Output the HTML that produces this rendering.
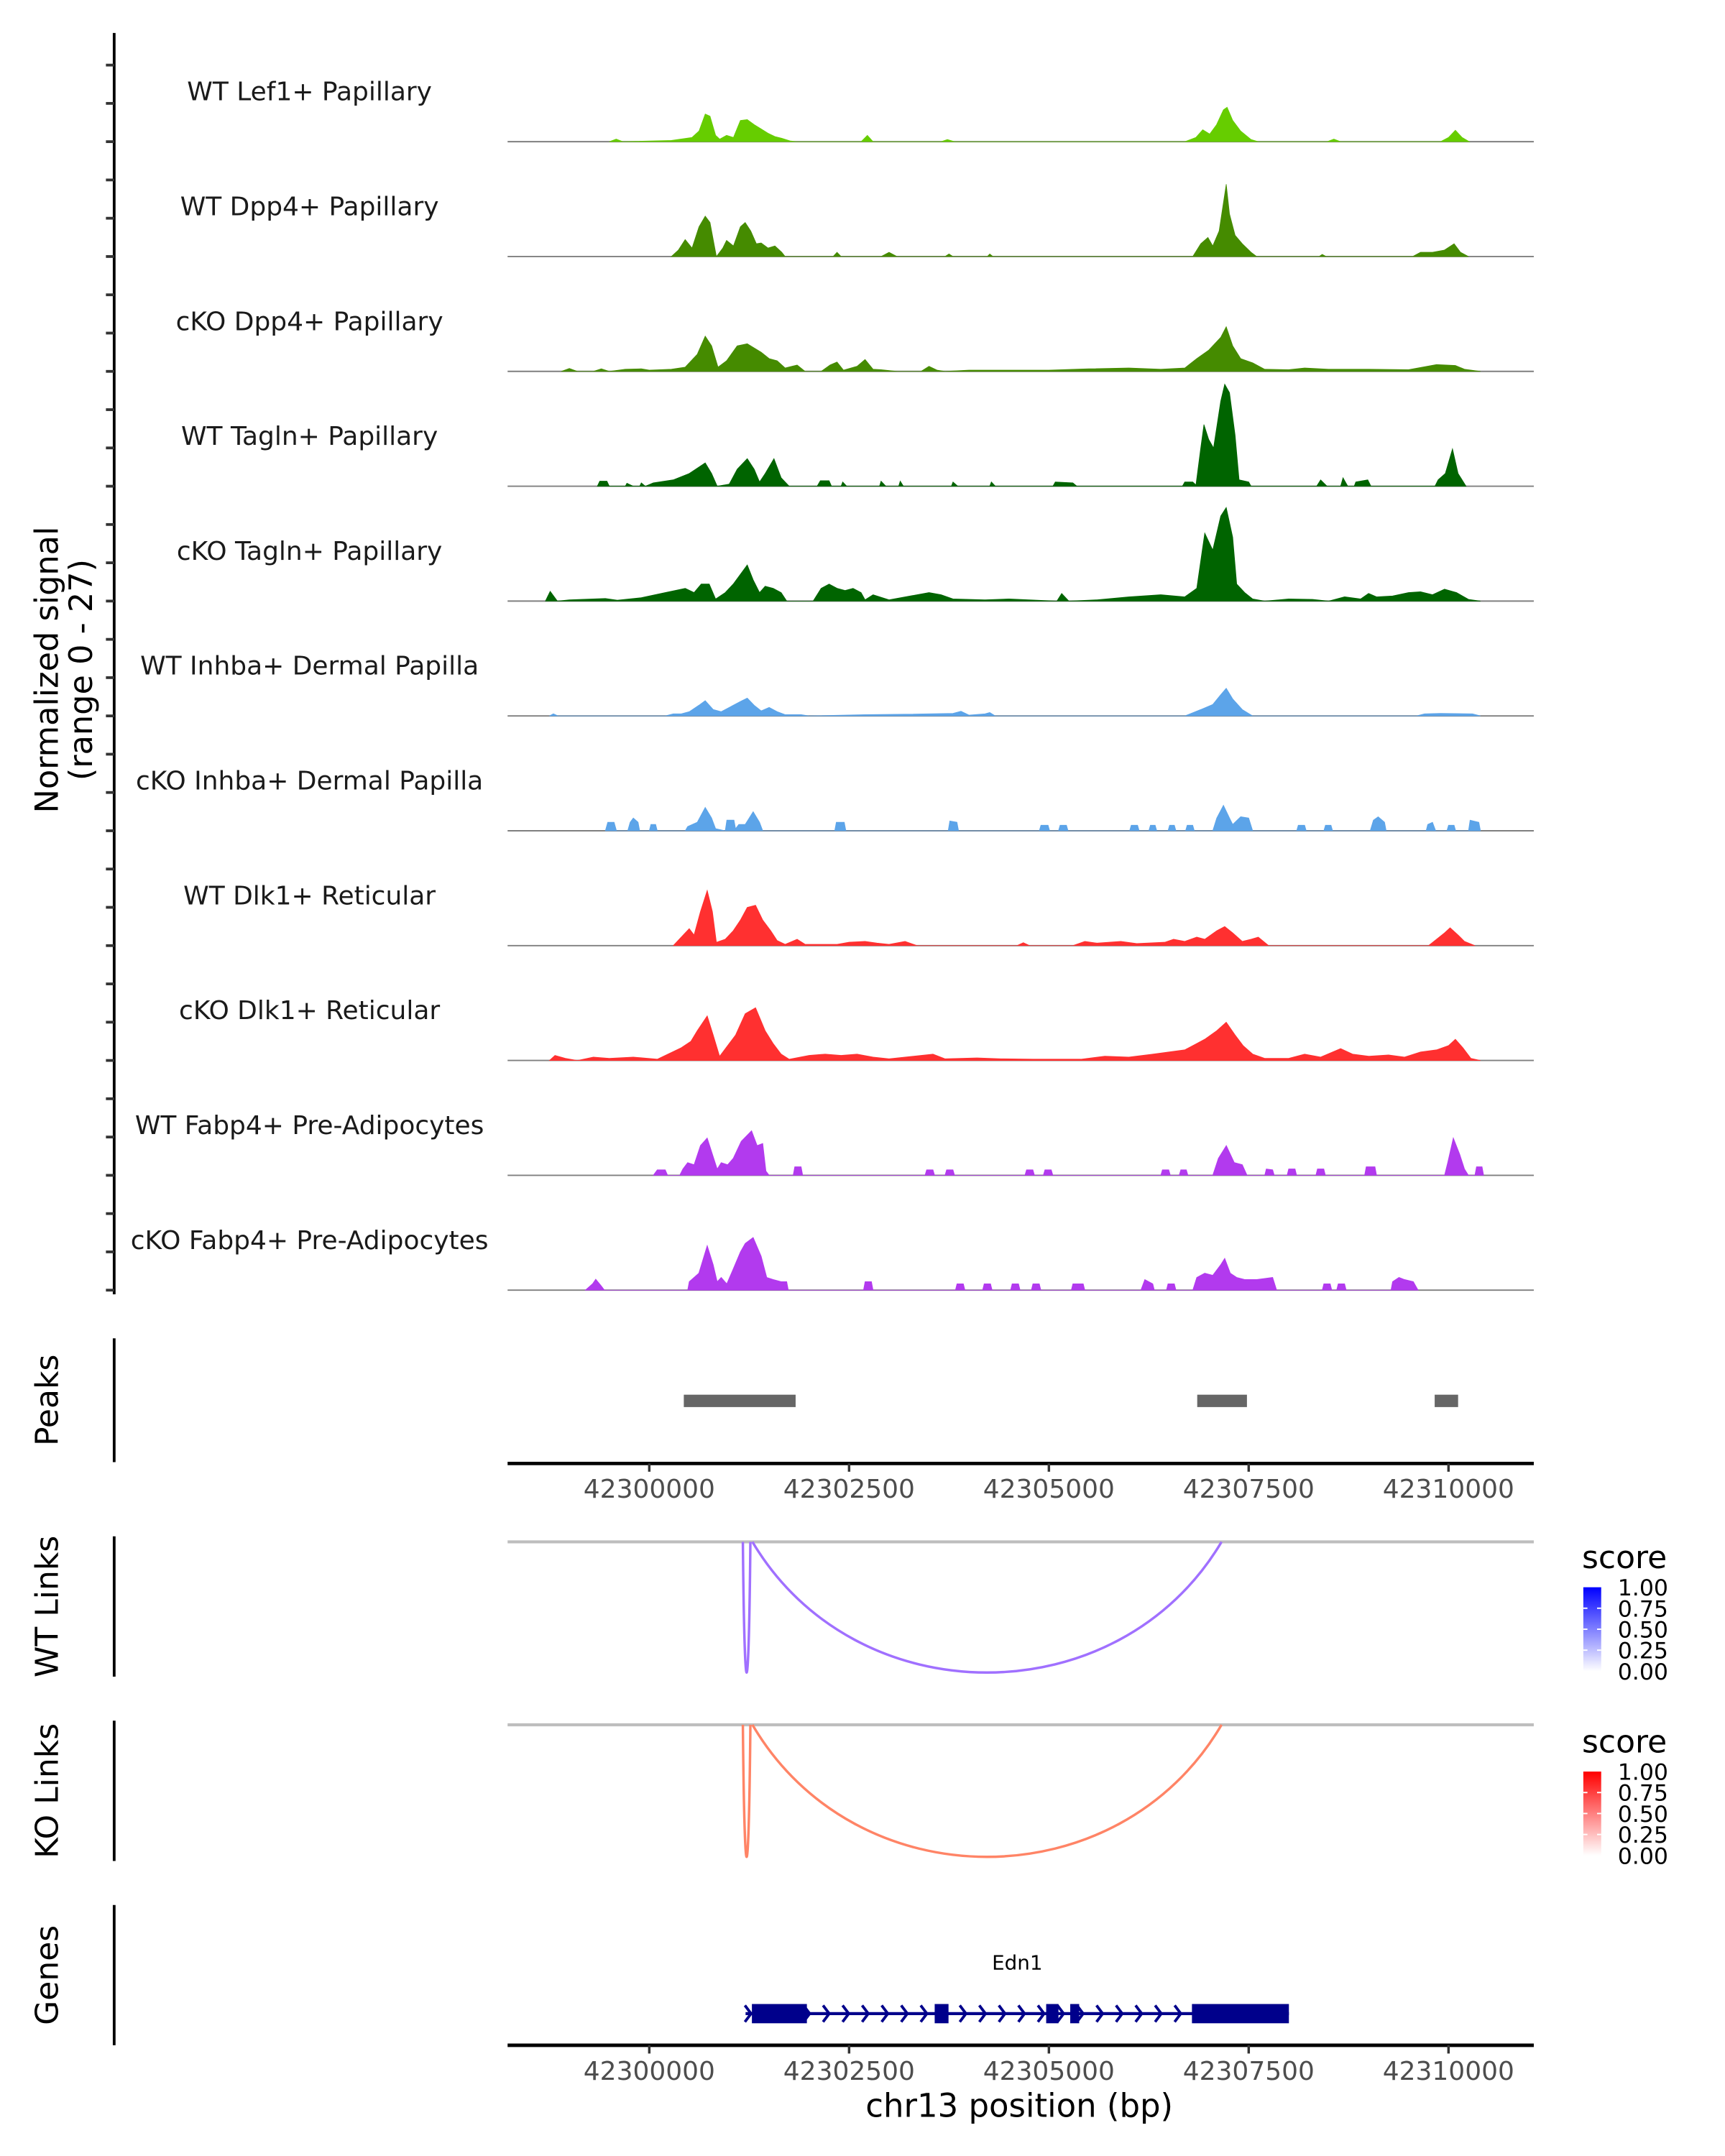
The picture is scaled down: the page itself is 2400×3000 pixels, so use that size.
<!DOCTYPE html>
<html><head><meta charset="utf-8"><title>Coverage plot chr13 Edn1</title>
<style>
html,body{margin:0;padding:0;background:#fff;}
svg{display:block;font-family:"DejaVu Sans","Liberation Sans",sans-serif;}
</style></head>
<body>
<svg id="chart" xmlns="http://www.w3.org/2000/svg" width="2400" height="3000" viewBox="0 0 1254 1567.5">
<rect x="0" y="0" width="1254" height="1567.5" fill="#fff"/>
<g id="tracks"></g>
<g id="labels"></g>
<g id="yaxis"></g>
<text transform="translate(42,487) rotate(-90)" text-anchor="middle" font-size="23.3" fill="#000">Normalized signal</text>
<text transform="translate(67,487) rotate(-90)" text-anchor="middle" font-size="23.3" fill="#000">(range 0 - 27)</text>
<g id="peaks"></g>
<text transform="translate(42,1018) rotate(-90)" text-anchor="middle" font-size="23">Peaks</text>
<line x1="83" y1="973" x2="83" y2="1063" stroke="#000" stroke-width="2"/>
<g id="axis1"></g>
<g id="links"></g>
<text transform="translate(42,1168) rotate(-90)" text-anchor="middle" font-size="23">WT Links</text>
<text transform="translate(42,1302) rotate(-90)" text-anchor="middle" font-size="23">KO Links</text>
<line x1="83" y1="1117" x2="83" y2="1219" stroke="#000" stroke-width="2"/>
<line x1="83" y1="1251" x2="83" y2="1353" stroke="#000" stroke-width="2"/>
<defs>
<linearGradient id="gblue" x1="0" y1="1" x2="0" y2="0"><stop offset="0" stop-color="#ffffff"/><stop offset="1" stop-color="#0000ff"/></linearGradient>
<linearGradient id="gred" x1="0" y1="1" x2="0" y2="0"><stop offset="0" stop-color="#ffffff"/><stop offset="1" stop-color="#ff0000"/></linearGradient>
</defs>
<g id="legends"></g>
<text transform="translate(42,1436) rotate(-90)" text-anchor="middle" font-size="23">Genes</text>
<line x1="83" y1="1385" x2="83" y2="1487" stroke="#000" stroke-width="2"/>
<g id="genes"></g>
<g id="axis2"></g>
<text x="741" y="1539" text-anchor="middle" font-size="23.5">chr13 position (bp)</text>
</svg>
<script>
const trackNames = ["WT Lef1+ Papillary","WT Dpp4+ Papillary","cKO Dpp4+ Papillary","WT Tagln+ Papillary","cKO Tagln+ Papillary","WT Inhba+ Dermal Papilla","cKO Inhba+ Dermal Papilla","WT Dlk1+ Reticular","cKO Dlk1+ Reticular","WT Fabp4+ Pre-Adipocytes","cKO Fabp4+ Pre-Adipocytes"];
const trackColors = ["#66CD00","#458B00","#458B00","#006400","#006400","#5CA4E9","#5CA4E9","#FF3030","#FF3030","#B23AEE","#B23AEE"];
const lef1WT = [[42299499,0],[42299586,0.6],[42299670,0],[42300276,0.3],[42300535,1],[42300622,2.5],[42300700,6.5],[42300760,6],[42300830,1.5],[42300881,0.6],[42300967,1.5],[42301053,1],[42301140,5],[42301226,5.2],[42301313,4],[42301399,3],[42301485,2],[42301572,1.2],[42301658,0.8],[42301760,0.2],[42301840,0],[42302650,0],[42302729,1.5],[42302800,0],[42303650,0],[42303730,0.5],[42303820,0],[42306700,0],[42306839,1],[42306925,2.8],[42307012,1.8],[42307098,4],[42307184,7.5],[42307230,8.1],[42307300,5],[42307400,2.5],[42307530,0.5],[42307620,0],[42308480,0],[42308566,0.6],[42308650,0],[42309900,0],[42310000,1],[42310086,2.7],[42310170,1],[42310260,0]];
const dpp4WT = [[42300276,0],[42300363,1.5],[42300449,4],[42300535,2],[42300622,7],[42300700,9.5],[42300760,8],[42300840,0],[42300920,2],[42300967,3.8],[42301053,2.5],[42301140,7],[42301200,8],[42301270,6],[42301340,3],[42301400,3.2],[42301485,2],[42301572,2.5],[42301658,1],[42301700,0],[42302300,0],[42302349,1],[42302400,0],[42302900,0],[42303000,1],[42303100,0],[42303700,0],[42303750,0.6],[42303800,0],[42304230,0],[42304260,0.6],[42304300,0],[42306800,0],[42306900,3],[42306990,4.5],[42307050,2.5],[42307130,6],[42307219,17],[42307260,10],[42307330,5],[42307420,3],[42307530,1],[42307600,0],[42308380,0],[42308420,0.5],[42308470,0],[42309550,0],[42309650,1],[42309800,1],[42309947,1.5],[42310070,3],[42310150,1],[42310250,0]];
const dpp4KO = [[42298900,0],[42299000,0.7],[42299100,0],[42299300,0],[42299400,0.6],[42299500,0],[42299700,0.5],[42299900,0.6],[42300000,0.3],[42300276,0.5],[42300449,1],[42300600,4],[42300700,8.3],[42300780,6],[42300860,1],[42300967,2.5],[42301100,6],[42301226,6.5],[42301313,5.5],[42301400,4.5],[42301500,3],[42301600,2.5],[42301700,0.8],[42301850,1.5],[42301950,0],[42302150,0],[42302262,1.5],[42302349,2.2],[42302430,0.3],[42302600,1.2],[42302700,2.8],[42302800,0.5],[42302900,0.4],[42303100,0],[42303400,0],[42303500,1.2],[42303600,0.3],[42303700,0],[42304000,0.3],[42305000,0.3],[42305500,0.6],[42306000,0.8],[42306400,0.5],[42306700,0.8],[42306850,3],[42307000,5],[42307150,8],[42307219,10.5],[42307300,6],[42307400,3],[42307550,2],[42307700,0.5],[42308000,0.4],[42308200,0.8],[42308500,0.5],[42309000,0.5],[42309500,0.4],[42309850,1.6],[42310086,1.4],[42310200,0.5],[42310400,0]];
const taglnWT = [[42299350,0],[42299380,1.2],[42299470,1.2],[42299500,0],[42299700,0],[42299720,0.7],[42299800,0],[42299880,0],[42299900,0.8],[42299950,0],[42300050,0.8],[42300300,1.5],[42300500,3],[42300700,5.5],[42300780,3],[42300850,0],[42301000,0.5],[42301100,4],[42301226,6.5],[42301313,4],[42301380,1],[42301450,3],[42301560,6.5],[42301650,2],[42301750,0],[42302100,0],[42302140,1.3],[42302250,1.3],[42302280,0],[42302400,0],[42302420,1],[42302470,0],[42302880,0],[42302900,1.2],[42302960,0],[42303120,0],[42303140,1.2],[42303180,0],[42303780,0],[42303800,1],[42303860,0],[42304260,0],[42304280,1],[42304330,0],[42305050,0],[42305080,1],[42305300,0.8],[42305350,0],[42306670,0],[42306700,1],[42306800,1],[42306840,0.3],[42306900,9],[42306940,14.5],[42307000,11],[42307060,9],[42307150,20],[42307200,24],[42307260,22],[42307330,12],[42307380,1.5],[42307500,1],[42307530,0],[42308350,0],[42308400,1.5],[42308480,0],[42308650,0],[42308680,2],[42308740,0],[42308820,0],[42308840,1],[42308990,1.5],[42309030,0],[42309830,0],[42309870,1.5],[42309960,3],[42310050,8.8],[42310120,3],[42310220,0]];
const taglnKO = [[42298700,0],[42298760,2.3],[42298850,0],[42299000,0.3],[42299300,0.5],[42299450,0.6],[42299600,0.2],[42299900,0.8],[42300200,2],[42300450,3],[42300560,2],[42300650,4],[42300750,4],[42300830,0.5],[42300950,2],[42301050,4],[42301226,8.5],[42301300,5],[42301380,2],[42301450,3.5],[42301550,3],[42301650,2],[42301720,0],[42302050,0],[42302150,3],[42302250,4],[42302350,3],[42302450,2.5],[42302550,3],[42302650,2],[42302700,0.3],[42302800,1.5],[42303000,0.3],[42303500,2],[42303650,1.5],[42303800,0.5],[42304200,0.3],[42304500,0.5],[42305100,0],[42305160,1.8],[42305250,0],[42305600,0.3],[42306000,1],[42306400,1.5],[42306700,1],[42306850,3],[42306950,16],[42307050,12],[42307150,20],[42307219,22],[42307300,15],[42307350,4],[42307450,2],[42307550,0.5],[42307700,0],[42308000,0.5],[42308300,0.4],[42308500,0],[42308700,1],[42308900,0.5],[42309000,1.8],[42309100,1],[42309300,1.2],[42309500,2],[42309650,2.2],[42309800,1.5],[42309950,2.8],[42310100,2],[42310250,0.4],[42310400,0]];
const inhbaWT = [[42298750,0],[42298800,0.5],[42298860,0],[42300200,0],[42300300,0.5],[42300400,0.5],[42300500,1],[42300620,2.5],[42300700,3.6],[42300800,1.5],[42300900,1],[42301050,2.5],[42301150,3.5],[42301226,4.2],[42301313,2.5],[42301400,1.2],[42301500,2],[42301600,1],[42301700,0.3],[42301900,0.3],[42302000,0],[42302700,0.3],[42303200,0.4],[42303800,0.6],[42303900,1.1],[42304000,0.2],[42304200,0.5],[42304260,0.8],[42304330,0],[42306700,0],[42306900,1.5],[42307050,2.7],[42307150,5],[42307219,6.5],[42307300,4],[42307420,1.5],[42307550,0],[42309600,0],[42309700,0.5],[42309900,0.6],[42310300,0.5],[42310400,0]];
const inhbaKO = [[42299450,0],[42299480,2],[42299560,2],[42299590,0],[42299730,0],[42299760,2],[42299800,3],[42299860,2],[42299880,0],[42300000,0],[42300020,1.5],[42300080,1.5],[42300100,0],[42300450,0],[42300480,1],[42300600,2],[42300700,5.5],[42300780,3],[42300830,0.5],[42300950,0],[42300970,2.5],[42301060,2.5],[42301080,0.5],[42301120,1.5],[42301200,1.5],[42301300,4.5],[42301380,2],[42301420,0],[42302320,0],[42302340,2],[42302440,2],[42302460,0],[42303740,0],[42303760,2.3],[42303850,2],[42303870,0],[42304880,0],[42304900,1.3],[42304990,1.3],[42305010,0],[42305120,0],[42305140,1.3],[42305220,1.3],[42305240,0],[42306010,0],[42306030,1.3],[42306110,1.3],[42306130,0],[42306250,0],[42306270,1.3],[42306330,1.3],[42306350,0],[42306490,0],[42306510,1.3],[42306570,1.3],[42306590,0],[42306710,0],[42306730,1.3],[42306800,1.3],[42306820,0],[42307050,0],[42307100,3],[42307184,6],[42307260,3],[42307300,1.5],[42307400,3.3],[42307500,3],[42307550,0],[42308100,0],[42308120,1.3],[42308200,1.3],[42308220,0],[42308440,0],[42308460,1.3],[42308530,1.3],[42308550,0],[42309020,0],[42309060,2.5],[42309120,3.3],[42309200,2],[42309220,0],[42309720,0],[42309740,1.5],[42309800,2],[42309840,0],[42309980,0],[42310000,1.3],[42310070,1.3],[42310090,0],[42310250,0],[42310270,2.5],[42310380,2],[42310400,0]];
const dlk1WT = [[42300300,0],[42300400,2],[42300500,4],[42300560,2.5],[42300640,8],[42300725,13],[42300790,8],[42300840,0.8],[42300950,1.5],[42301050,3.5],[42301140,6],[42301226,9],[42301330,9.5],[42301420,6],[42301520,3.5],[42301600,1.2],[42301700,0.3],[42301850,1.5],[42301950,0.3],[42302350,0.3],[42302500,0.8],[42302700,1],[42302850,0.6],[42303000,0.3],[42303200,1],[42303350,0],[42304600,0],[42304680,0.7],[42304760,0],[42305300,0],[42305450,1],[42305600,0.6],[42305900,1],[42306100,0.5],[42306450,0.8],[42306560,1.5],[42306700,1],[42306850,2],[42306950,1.5],[42307100,3.5],[42307200,4.5],[42307300,3],[42307420,1],[42307530,1.5],[42307620,2],[42307750,0],[42309750,0],[42309850,1.5],[42309950,3],[42310020,4.2],[42310120,2.5],[42310200,1],[42310330,0]];
const dlk1KO = [[42298750,0],[42298820,1.2],[42298950,0.5],[42299100,0],[42299300,0.8],[42299500,0.5],[42299800,0.8],[42300100,0.3],[42300400,3],[42300520,4.5],[42300600,7],[42300725,10.5],[42300800,6],[42300880,1],[42300960,3],[42301080,6],[42301200,11],[42301330,12.4],[42301450,7],[42301550,4],[42301650,1.5],[42301750,0.3],[42302000,1.2],[42302200,1.5],[42302400,1.2],[42302600,1.5],[42302800,0.8],[42303000,0.4],[42303550,1.5],[42303700,0.4],[42304100,0.6],[42304400,0.4],[42304800,0.3],[42305400,0.3],[42305700,1],[42306000,0.8],[42306300,1.5],[42306500,2],[42306700,2.5],[42306850,4],[42306950,5],[42307100,7],[42307219,9],[42307330,6],[42307430,3.5],[42307550,1.5],[42307700,0.5],[42308000,0.5],[42308200,1.5],[42308400,0.8],[42308650,2.8],[42308800,1.5],[42309000,1],[42309250,1.3],[42309450,0.8],[42309650,2],[42309850,2.5],[42310000,3.5],[42310086,5],[42310180,3],[42310280,0.5],[42310400,0]];
const fabp4WT = [[42300050,0],[42300100,1.3],[42300200,1.3],[42300230,0],[42300380,0],[42300420,1.5],[42300480,3],[42300560,2.5],[42300640,7],[42300725,8.8],[42300790,5],[42300850,1.5],[42300900,3],[42300980,2.5],[42301050,4],[42301150,8],[42301280,10.5],[42301350,7],[42301420,7.5],[42301460,1],[42301500,0],[42301800,0],[42301820,2],[42301900,2],[42301920,0],[42303450,0],[42303470,1.3],[42303550,1.3],[42303570,0],[42303700,0],[42303720,1.3],[42303800,1.3],[42303820,0],[42304700,0],[42304720,1.3],[42304800,1.3],[42304820,0],[42304930,0],[42304950,1.3],[42305030,1.3],[42305050,0],[42306400,0],[42306420,1.3],[42306500,1.3],[42306520,0],[42306630,0],[42306650,1.3],[42306720,1.3],[42306740,0],[42307050,0],[42307120,4],[42307220,7],[42307320,3],[42307420,2.5],[42307480,0],[42307700,0],[42307720,1.5],[42307800,1.3],[42307820,0],[42307980,0],[42308000,1.5],[42308080,1.5],[42308100,0],[42308340,0],[42308360,1.5],[42308440,1.5],[42308460,0],[42308950,0],[42308970,2],[42309080,2],[42309100,0],[42309950,0],[42309990,3],[42310060,8.8],[42310140,5],[42310200,1.5],[42310250,0],[42310330,0],[42310350,2],[42310420,2],[42310440,0]];
const fabp4KO = [[42299200,0],[42299290,1.5],[42299330,2.6],[42299400,1],[42299440,0],[42300480,0],[42300500,2],[42300620,4],[42300725,10.5],[42300800,6],[42300850,2],[42300900,3],[42300970,1.5],[42301050,5],[42301140,9],[42301200,11],[42301300,12.4],[42301400,8],[42301470,3],[42301550,2.5],[42301650,2],[42301720,2],[42301740,0],[42302680,0],[42302700,2],[42302780,2],[42302800,0],[42303830,0],[42303850,1.5],[42303930,1.5],[42303950,0],[42304170,0],[42304190,1.5],[42304270,1.5],[42304290,0],[42304520,0],[42304540,1.5],[42304620,1.5],[42304640,0],[42304780,0],[42304800,1.5],[42304880,1.5],[42304900,0],[42305280,0],[42305300,1.5],[42305430,1.5],[42305450,0],[42306150,0],[42306200,2.5],[42306300,1.5],[42306320,0],[42306470,0],[42306490,1.5],[42306570,1.5],[42306590,0],[42306800,0],[42306850,3],[42306950,4],[42307050,3.5],[42307150,6],[42307200,7.5],[42307270,4],[42307350,3],[42307450,2.5],[42307600,2.5],[42307800,3],[42307850,0],[42308420,0],[42308440,1.5],[42308520,1.5],[42308540,0],[42308600,0],[42308620,1.5],[42308700,1.5],[42308720,0],[42309280,0],[42309300,2],[42309380,3],[42309450,2.5],[42309560,2],[42309620,0]];
const trackValues = [lef1WT,dpp4WT,dpp4KO,taglnWT,taglnKO,inhbaWT,inhbaKO,dlk1WT,dlk1KO,fabp4WT,fabp4KO];
const peakStarts = [42300432,42306856,42309827];
const peakEnds = [42301831,42307478,42310120];
const xTicks = [42300000,42302500,42305000,42307500,42310000];
const wtLinkStarts = [42301171,42301291];
const wtLinkEnds = [42301265,42307160];
const koLinkStarts = [42301171,42301291];
const koLinkEnds = [42301265,42307160];
const legendTicks = ["1.00","0.75","0.50","0.25","0.00"];
const geneStart = 42301205, geneEnd = 42308003;
const exonStarts = [42301284,42303571,42304966,42305267,42306790];
const exonEnds = [42301972,42303744,42305120,42305379,42308003];
const yMax = 27;

const NS = "http://www.w3.org/2000/svg";
const X0 = 369, X1 = 1115;
function xs(bp){ return 472 + (bp - 42300000) * 0.0581; }
const trackH = 83.5;
function base(i){ return 103 + trackH * i; }
function ys(v, i){ return base(i) - v / yMax * trackH; }
function mk(tag, attrs, parent){ const e = document.createElementNS(NS, tag); for (const k in attrs) e.setAttribute(k, attrs[k]); parent.appendChild(e); return e; }

const gT = document.getElementById('tracks');
const gL = document.getElementById('labels');
trackValues.forEach((pts, i) => {
  let d = 'M' + xs(pts[0][0]).toFixed(2) + ',' + base(i);
  pts.forEach(p => { d += 'L' + xs(p[0]).toFixed(2) + ',' + ys(p[1], i).toFixed(2); });
  d += 'L' + xs(pts[pts.length-1][0]).toFixed(2) + ',' + base(i) + 'Z';
  const bl = mk('line', {x1:X0, x2:X1, y1:base(i), y2:base(i), stroke:'#7f7f7f', 'stroke-width':1}, gT);
  
  
  const a = mk('path', {d:d, fill:trackColors[i], stroke:trackColors[i], 'stroke-width':0.4}, gT);
  
  
  const t = mk('text', {x:225, y:base(i) - 30, 'text-anchor':'middle', 'font-size':18.8, fill:'#1a1a1a'}, gL);
  t.textContent = trackNames[i];
  
  
});

const gY = document.getElementById('yaxis');
const ax = mk('line', {x1:83, x2:83, y1:24, y2:941, stroke:'#000', 'stroke-width':2}, gY);


for (let i = 0; i < 11; i++) {
  [18, 9, 0].forEach(v => {
    const tk = mk('line', {x1:77, x2:83, y1:ys(v, i), y2:ys(v, i), stroke:'#333', 'stroke-width':2}, gY);
    
    
  });
}

const gP = document.getElementById('peaks');
peakStarts.forEach((s, k) => {
  const r = mk('rect', {x:xs(s), y:1014, width:xs(peakEnds[k]) - xs(s), height:9, fill:'#666666'}, gP);
  
  
});

function drawAxis(g, y, labY){
  const l = mk('line', {x1:X0, x2:X1, y1:y, y2:y, stroke:'#000', 'stroke-width':2.5}, g);
  
  
  xTicks.forEach(t => {
    const tk = mk('line', {x1:xs(t), x2:xs(t), y1:y, y2:y + 6, stroke:'#333', 'stroke-width':1.8}, g);
    
    
    const tx = mk('text', {x:xs(t), y:labY, 'text-anchor':'middle', 'font-size':18.8, fill:'#4d4d4d'}, g);
    tx.textContent = String(t);
    
    
  });
}
drawAxis(document.getElementById('axis1'), 1064, 1089);
drawAxis(document.getElementById('axis2'), 1487, 1512);

const gK = document.getElementById('links');
function drawLinks(starts, ends, y0, depth, color){
  const bl = mk('line', {x1:X0, x2:X1, y1:y0, y2:y0, stroke:'#bebebe', 'stroke-width':2.2}, gK);
  
  
  starts.forEach((s, k) => {
    const x1 = xs(s), x2 = xs(ends[k]), w = x2 - x1, c = depth / 0.75;
    const d = 'M' + x1 + ',' + y0 + ' C' + (x1 + w * 0.22) + ',' + (y0 + c) + ' ' + (x2 - w * 0.22) + ',' + (y0 + c) + ' ' + x2 + ',' + y0;
    const p = mk('path', {d:d, fill:'none', stroke:color, 'stroke-width':1.8}, gK);
    
    
  });
}
drawLinks(wtLinkStarts, wtLinkEnds, 1121, 95, '#A070FF');
drawLinks(koLinkStarts, koLinkEnds, 1254, 96, '#FF8466');

const gG = document.getElementById('legends');
function legend(y0, grad){
  const t = mk('text', {x:1150, y:y0, 'font-size':23}, gG);
  t.textContent = 'score';
  
  
  const r = mk('rect', {x:1151, y:y0 + 14, width:13, height:61, fill:'url(#' + grad + ')'}, gG);
  
  
  legendTicks.forEach((s, k) => {
    const ty = y0 + 14 + k * 15.25;
    const tl = mk('text', {x:1176, y:ty + 6, 'font-size':16.5}, gG);
    tl.textContent = s;
    
    
    if (k > 0 && k < 4) {
      const m = mk('line', {x1:1151, x2:1154, y1:ty, y2:ty, stroke:'#fff', 'stroke-width':1}, gG);
      
      
      const m2 = mk('line', {x1:1161, x2:1164, y1:ty, y2:ty, stroke:'#fff', 'stroke-width':1}, gG);
      
      
    }
  });
}
legend(1140, 'gblue');
legend(1274, 'gred');

const gN = document.getElementById('genes');
const gy = 1464, col = '#00008B';
const gl = mk('line', {x1:xs(geneStart), x2:xs(geneEnd), y1:gy, y2:gy, stroke:col, 'stroke-width':2.2}, gN);


for (let x = xs(geneStart) + 2; x < xs(geneEnd); x += 14.2) {
  const ch = mk('path', {d:'M' + (x - 2.5) + ',' + (gy - 6) + 'L' + (x + 2) + ',' + gy + 'L' + (x - 2.5) + ',' + (gy + 6), fill:'none', stroke:col, 'stroke-width':2}, gN);
  
  
}
exonStarts.forEach((s, k) => {
  const r = mk('rect', {x:xs(s), y:gy - 7, width:xs(exonEnds[k]) - xs(s), height:14, fill:col}, gN);
  
  
});
const gt = mk('text', {x:(xs(geneStart) + xs(geneEnd)) / 2, y:1432, 'text-anchor':'middle', 'font-size':14.5}, gN);
gt.textContent = 'Edn1';


</script>
</body></html>
